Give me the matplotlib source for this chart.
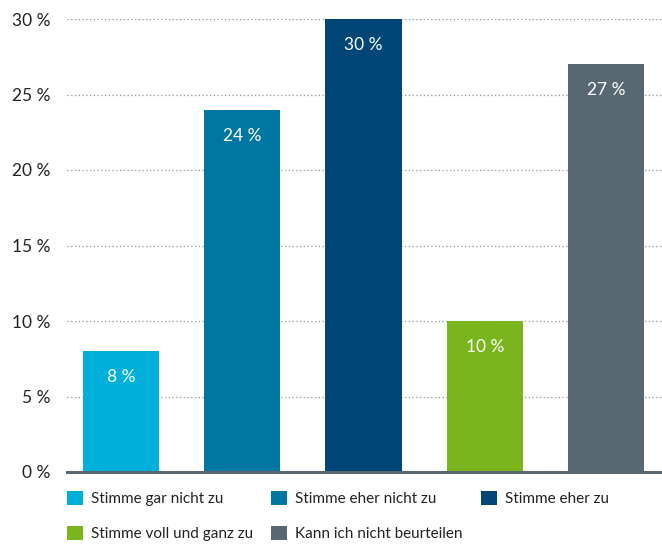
import matplotlib
matplotlib.use("Agg")
import matplotlib.pyplot as plt
from matplotlib.patches import Patch

categories = ["Stimme gar nicht zu", "Stimme eher nicht zu", "Stimme eher zu",
              "Stimme voll und ganz zu", "Kann ich nicht beurteilen"]
values = [8, 24, 30, 10, 27]
colors = ["#00b0da", "#0077a3", "#004676", "#7ab51d", "#576872"]
yticks = [0, 5, 10, 15, 20, 25, 30]
ytick_labels = ["0 %", "5 %", "10 %", "15 %", "20 %", "25 %", "30 %"]

plt.rcParams['font.family'] = ['Lato', 'DejaVu Sans']

fig = plt.figure(figsize=(6.62, 5.44), dpi=100)
ax = fig.add_axes([67/662, 1-472/544, 1-67/662, (472-19)/544])

x = list(range(len(values)))
bars = ax.bar(x, values, width=0.63, color=colors, zorder=3, clip_on=False)
for xi, v in zip(x, values):
    ax.annotate(f"{v} %", (xi, v), xytext=(0, -26), textcoords="offset pixels",
                ha="center", va="center", color="white", fontsize=12.5, zorder=4)

ax.set_xlim(-0.445, 4.46)
ax.set_ylim(0, 30)
ax.set_yticks(yticks)
ax.set_yticklabels(ytick_labels, fontsize=12.5, color="#222222")
ax.set_xticks([])
ax.tick_params(axis="y", length=0, pad=12)
for s in ["top", "right", "left"]:
    ax.spines[s].set_visible(False)
ax.spines["bottom"].set_color("#5a6770")
ax.spines["bottom"].set_linewidth(2.2)
ax.spines["bottom"].set_zorder(5)
ax.grid(axis="y", linestyle=(0, (1, 2)), color="#8a949a", linewidth=0.9, zorder=0)

# reorder so that legend fills row by row
order = [0, 3, 1, 4, 2]
handles = [Patch(facecolor=colors[i], edgecolor="none") for i in order]
labels = [categories[i] for i in order]
fig.legend(handles, labels, loc="upper left", bbox_to_anchor=(67/662, 1-491/544),
           ncol=3, frameon=False, fontsize=11, handlelength=1.05, handleheight=1.0,
           handletextpad=0.5, columnspacing=1.22, labelspacing=1.32, borderaxespad=0,
           borderpad=0, labelcolor="#222222")

fig.savefig("out.png", dpi=100)
